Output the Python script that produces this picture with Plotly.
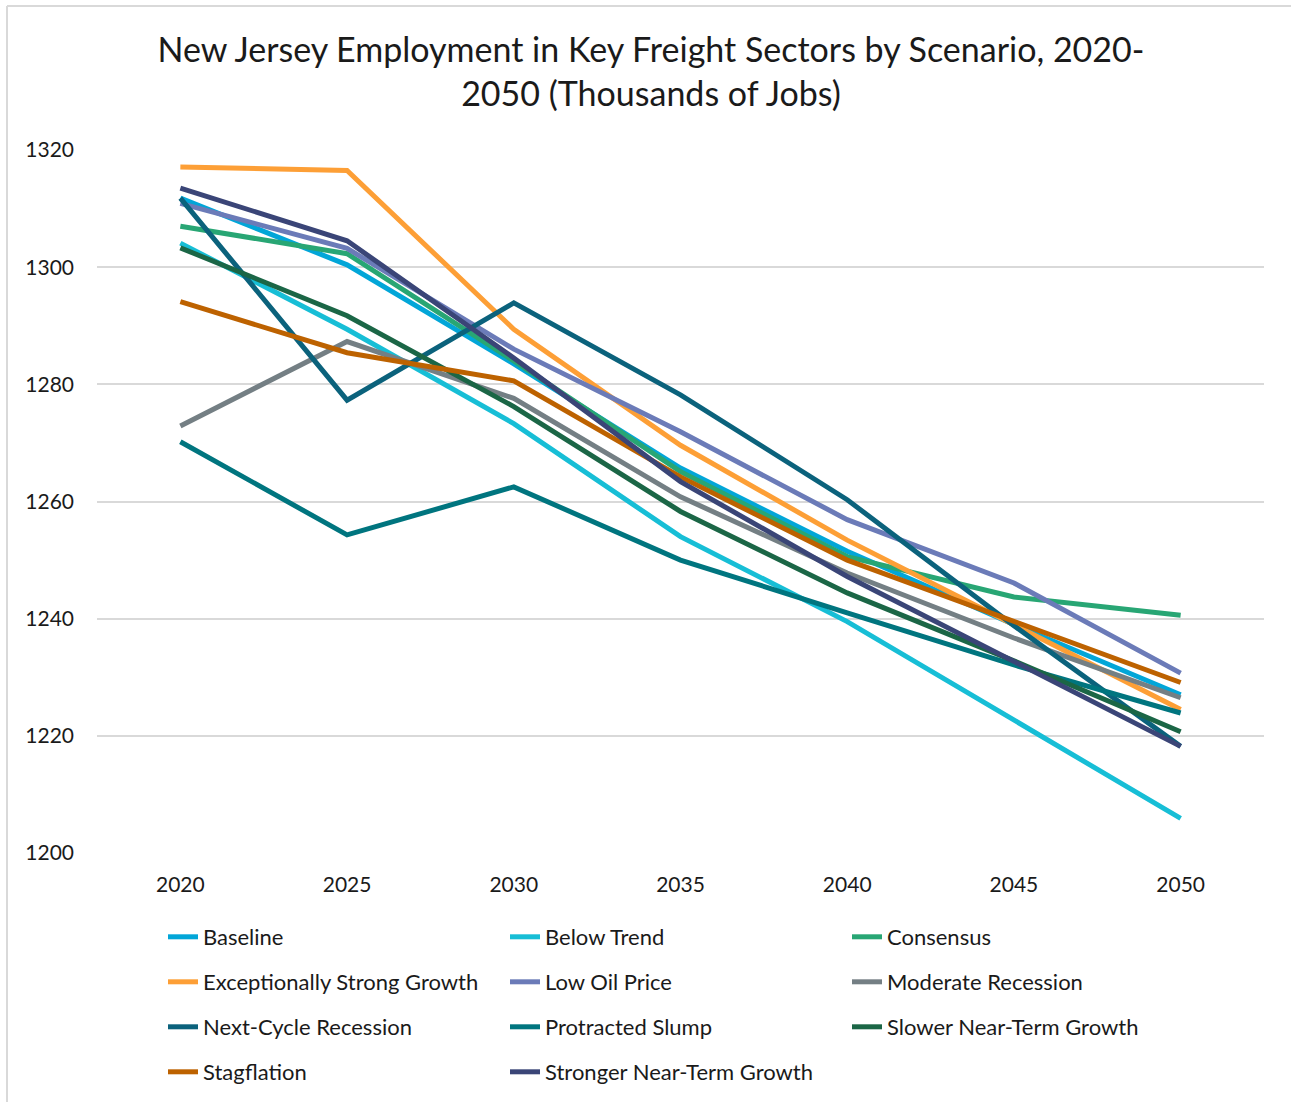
import plotly.graph_objects as go

# Scenario employment projections, thousands of jobs
years = ["2020", "2025", "2030", "2035", "2040", "2045", "2050"]

baseline = [1311.8, 1300.4, 1283.5, 1265.7, 1251.5, 1239.0, 1227.0]
below_trend = [1304.1, 1289.4, 1273.3, 1254.0, 1239.5, 1222.7, 1205.9]
consensus = [1307.0, 1302.3, 1284.0, 1265.1, 1250.6, 1243.7, 1240.6]
exceptionally_strong = [1317.1, 1316.5, 1289.4, 1269.6, 1253.4, 1239.0, 1224.5]
low_oil_price = [1310.9, 1303.2, 1286.0, 1271.9, 1256.9, 1246.1, 1230.7]
moderate_recession = [1272.9, 1287.3, 1277.6, 1260.8, 1247.8, 1236.7, 1226.5]
next_cycle_recession = [1311.8, 1277.3, 1293.9, 1278.2, 1260.3, 1238.8, 1218.2]
protracted_slump = [1270.2, 1254.3, 1262.5, 1250.0, 1241.0, 1232.1, 1223.9]
slower_near_term = [1303.3, 1291.7, 1276.2, 1258.3, 1244.4, 1232.8, 1220.7]
stagflation = [1294.1, 1285.4, 1280.6, 1264.2, 1250.0, 1239.5, 1229.1]
stronger_near_term = [1313.5, 1304.5, 1284.5, 1263.4, 1247.2, 1232.8, 1218.2]

series = [
    ("Baseline", baseline, "#02A6D8"),
    ("Below Trend", below_trend, "#17BED6"),
    ("Consensus", consensus, "#28A674"),
    ("Exceptionally Strong Growth", exceptionally_strong, "#FD9F36"),
    ("Low Oil Price", low_oil_price, "#6B7BB8"),
    ("Moderate Recession", moderate_recession, "#747F84"),
    ("Next-Cycle Recession", next_cycle_recession, "#0B627C"),
    ("Protracted Slump", protracted_slump, "#00757F"),
    ("Slower Near-Term Growth", slower_near_term, "#1B6646"),
    ("Stagflation", stagflation, "#BD6200"),
    ("Stronger Near-Term Growth", stronger_near_term, "#3A4577"),
]

FONT = "Lato, 'Open Sans', sans-serif"
W, H = 1291, 1102
M_L, M_R, M_T, M_B = 97, 27, 150, 249
PLOT_W = W - M_L - M_R
PLOT_H = H - M_T - M_B

legend_names = ["legend", "legend2", "legend3", "legend4"]

fig = go.Figure()
for i, (name, vals, color) in enumerate(series):
    fig.add_trace(go.Scatter(
        x=years, y=vals, name=name, mode="lines",
        line=dict(color=color, width=5),
        legend=legend_names[i // 3],
    ))

# one legend per row, three entries across, placed in container coordinates
legend_layout = {}
row_centers = [937, 982, 1027, 1072]
for r, key in enumerate(legend_names):
    legend_layout[key] = dict(
        orientation="h",
        xref="container", yref="container",
        x=163 / W, xanchor="left",
        y=1 - row_centers[r] / H, yanchor="middle",
        entrywidth=297, entrywidthmode="pixels",
        font=dict(family=FONT, size=22, color="#1a1a1a"),
        bgcolor="rgba(0,0,0,0)", itemclick=False, itemdoubleclick=False,
    )

grid = "#D9D9D9"
fig.update_layout(
    width=W, height=H,
    margin=dict(l=M_L, r=M_R, t=M_T, b=M_B),
    paper_bgcolor="white", plot_bgcolor="white",
    font=dict(family=FONT, size=21, color="#1a1a1a"),
    title=dict(
        text="New Jersey Employment in Key Freight Sectors by Scenario, 2020-<br>2050 (Thousands of Jobs)",
        x=651 / W, xanchor="center", xref="container",
        y=1 - 62 / H, yanchor="top", yref="container",
        font=dict(family=FONT, size=34, color="#1a1a1a"),
    ),
    xaxis=dict(
        type="category", range=[-0.5, 6.5], showgrid=False,
        showline=False, ticks="", ticklabelstandoff=17,
        tickfont=dict(family=FONT, size=21, color="#1a1a1a"),
    ),
    yaxis=dict(
        range=[1200, 1320], dtick=20, tick0=1200,
        showgrid=True, gridcolor=grid, gridwidth=1.5,
        zeroline=False, showline=False, ticks="",
        ticklabelstandoff=22,
        tickfont=dict(family=FONT, size=21, color="#1a1a1a"),
    ),
    showlegend=True,
    **legend_layout,
)

# chart-area border along the left and top edges
fig.add_shape(type="line", xref="paper", yref="paper",
              x0=(7 - M_L) / PLOT_W, x1=(7 - M_L) / PLOT_W,
              y0=(H - M_B - 6) / PLOT_H, y1=(H - M_B - H - 10) / PLOT_H,
              line=dict(color=grid, width=2))
fig.add_shape(type="line", xref="paper", yref="paper",
              x0=(7 - M_L) / PLOT_W, x1=(W + 10 - M_L) / PLOT_W,
              y0=(H - M_B - 6) / PLOT_H, y1=(H - M_B - 6) / PLOT_H,
              line=dict(color=grid, width=2))

fig.write_html("out.html")
